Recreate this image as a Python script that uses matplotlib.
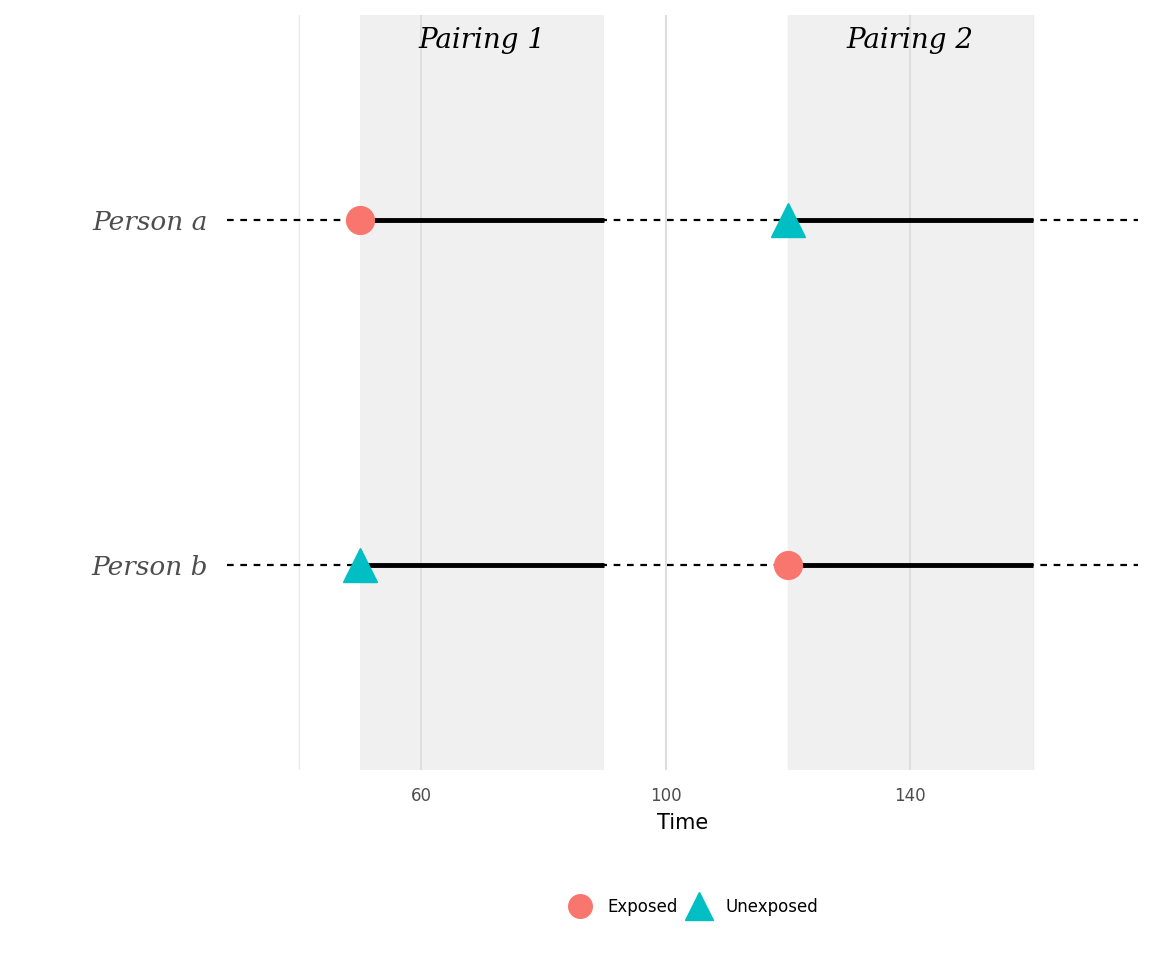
import matplotlib
matplotlib.use("Agg")
import matplotlib.pyplot as plt
from matplotlib.lines import Line2D

persons = ["Person a", "Person b"]
person_y = [2, 1]
pair_labels = ["Pairing 1", "Pairing 2"]
pair_start = [50, 120]
pair_end = [90, 160]
# exposure status per person per pairing
status = {"Person a": ["Exposed", "Unexposed"], "Person b": ["Unexposed", "Exposed"]}
xticks = [60, 100, 140]
minor = [40, 80, 120, 160]

colors = {"Exposed": "#F8766D", "Unexposed": "#00BFC4"}
markers = {"Exposed": "o", "Unexposed": "^"}
msize = {"Exposed": 20, "Unexposed": 24}

fig = plt.figure(figsize=(11.52, 9.6), dpi=100)
ax = fig.add_axes([227/1152, 1-770/960, (1138-227)/1152, (770-15)/960])
xmin, xmax = 28.3, 177.2
ax.set_xlim(xmin, xmax)
ax.set_ylim(0.406, 2.594)
for s in ax.spines.values():
    s.set_visible(False)
for m in minor:
    ax.axvline(m, color="#EBEBEB", lw=1, zorder=0)
for t in xticks:
    ax.axvline(t, color="#DEDEDE", lw=1.5, zorder=0.5)
for s0, e0, lab in zip(pair_start, pair_end, pair_labels):
    ax.axvspan(s0, e0, color="#F0F0F0", zorder=0.2, lw=0)
    ax.text((s0+e0)/2, 2.52, lab, ha="center", va="center", fontsize=20,
            family="DejaVu Serif", style="italic")
for p, y in zip(persons, person_y):
    ax.plot([xmin, xmax], [y, y], ls=(0, (3, 3)), color="black", lw=1.6, zorder=1)
    for i, (s0, e0) in enumerate(zip(pair_start, pair_end)):
        ax.plot([s0, e0], [y, y], color="black", lw=3.5, zorder=2, solid_capstyle="butt")
        st = status[p][i]
        ax.plot(s0, y, marker=markers[st], color=colors[st], ms=msize[st], ls="none", zorder=3)
ax.set_yticks(person_y)
ax.set_yticklabels(persons, family="DejaVu Serif", style="italic", fontsize=19, color="#4D4D4D")
ax.set_xticks(xticks)
ax.set_xticklabels([str(t) for t in xticks], fontsize=12, color="#4D4D4D")
ax.tick_params(length=0, pad=12)
ax.tick_params(axis="y", pad=14)
ax.set_xlabel("Time", fontsize=15, labelpad=6)

handles = [Line2D([], [], marker=markers[k], color=colors[k], ms=msize[k]*0.85, ls="none", label=k)
           for k in ["Exposed", "Unexposed"]]
fig.legend(handles=handles, loc="center", bbox_to_anchor=(0.6, 1-907/960), ncol=2,
           frameon=False, fontsize=12, handletextpad=0.6, columnspacing=0.3)
fig.savefig("out.png", dpi=100, facecolor="white")
